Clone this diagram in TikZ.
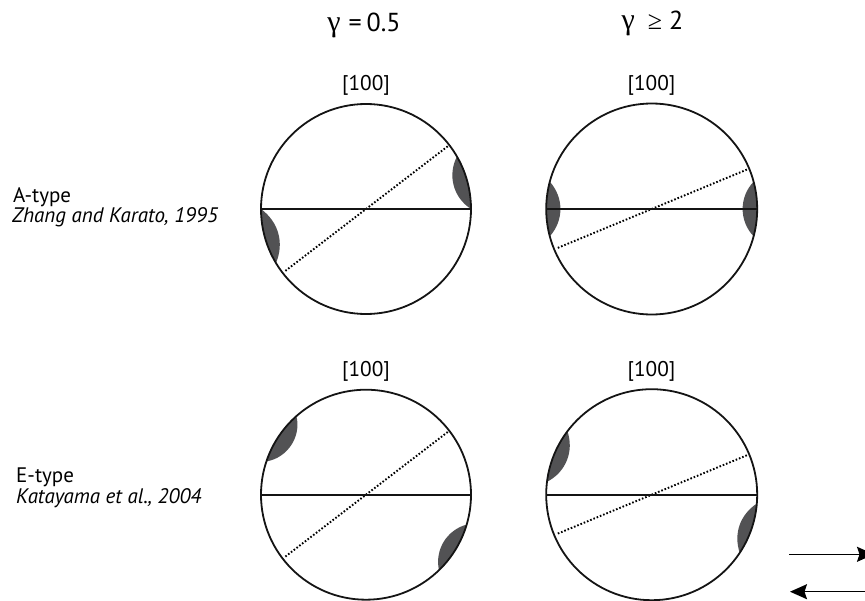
\documentclass[tikz,border=0pt]{standalone}
\usepackage{fontspec}
\setmainfont{PT Sans}
\newfontfamily\grk{Liberation Serif}
\usetikzlibrary{calc,arrows.meta}
\definecolor{patchgray}{RGB}{82,82,84}
\tikzset{
  rim/.style={line width=1.8pt, draw=black!92},
  axisline/.style={line width=1.9pt, draw=black!92},
  dotline/.style={line width=1.9pt, dash pattern=on 1.6pt off 1.9pt},
  patch/.style={fill=patchgray},
  lbl/.style={inner sep=0pt, anchor=base west, font=\fontsize{21}{25}\selectfont},
  idx/.style={inner sep=0pt, anchor=base, font=\fontsize{21.3}{25}\selectfont},
  head/.style={inner sep=0pt, anchor=base, font=\fontsize{26}{32}\selectfont},
  shear/.style={line width=1.5pt, -{Stealth[length=17pt,width=15pt,inset=2.5pt]}}
}
% #1 centre, #2 radius, #3 start angle, #4 end angle, #5 depth of the crescent
\newcommand\lens[5]{%
  \pgfmathsetmacro\lensbend{2*atan(2*(#5-#2*(1-cos((#4-#3)/2)))/(2*#2*sin((#4-#3)/2)))}%
  \fill[patch] ($(#1)+(#3:#2)$) arc[start angle=#3, end angle=#4, radius=#2]
    to[bend right=\lensbend] ($(#1)+(#3:#2)$) -- cycle;}
\newcommand\pole[3]{% centre, radius, angle of dotted line
  \draw[dotline] ($(#1)+(#3:103)$) -- ($(#1)+({#3+180}:103)$);
  \draw[axisline] ($(#1)+(180:#2)$) -- ($(#1)+(0:#2)$);
  \draw[rim] (#1) circle[radius=#2];}
\begin{document}
\begin{tikzpicture}[x=1pt,y=1pt]
\useasboundingbox (0,0) rectangle (865,-600);
\clip (0,0) rectangle (865,-600);

% column headings
\node[head] (g1) at (364,-31.5) {{\grk\fontsize{30}{32}\selectfont γ}\hspace{8pt}=\hspace{5pt}0.5};
\node[head] (g2) at (652.5,-29.5) {{\grk\fontsize{30}{32}\selectfont γ}\hspace{13pt}{\grk ≥}\hspace{7pt}2};

% row labels
\node[lbl] (atype) at (13,-202) {A-type};
\node[lbl] (aref) at (12,-222.5) {\itshape Zhang and Karato, 1995};
\node[lbl] (etype) at (16,-482.5) {E-type};
\node[lbl] (eref) at (16,-503) {\itshape Katayama et al., 2004};

% [100] labels
\node[idx] (i1) at (366,-90.7) {[100]};
\node[idx] (i2) at (651.5,-90.7) {[100]};
\node[idx] (i3) at (366,-376) {[100]};
\node[idx] (i4) at (651.5,-376) {[100]};

% circle centres
\coordinate (c1) at (366,-209);
\coordinate (c2) at (651.7,-209);
\coordinate (c3) at (366,-494.7);
\coordinate (c4) at (651.7,-494.7);

% patches
\lens{c1}{105}{0}{30}{14}
\lens{c1}{105}{180}{211}{13.5}
\lens{c2}{105.5}{165}{195}{14}
\lens{c2}{105.5}{-15}{15}{14.5}
\lens{c3}{105}{131.5}{161.5}{15.5}
\lens{c3}{105}{-46}{-16.5}{14}
\lens{c4}{105.5}{143}{173}{13.7}
\lens{c4}{105.5}{-33.5}{-4.8}{12}

% nets
\pole{c1}{105}{37.5}
\pole{c2}{105.5}{22.5}
\pole{c3}{105}{37.5}
\pole{c4}{105.5}{22.5}

% shear sense arrows
\coordinate (s1a) at (789,-554.3);
\coordinate (s1b) at (874,-554.3);
\coordinate (s2a) at (872,-591.7);
\coordinate (s2b) at (790,-591.7);
\draw[shear] (s1a) -- (s1b);
\draw[shear] (s2a) -- (s2b);
\end{tikzpicture}
\end{document}
